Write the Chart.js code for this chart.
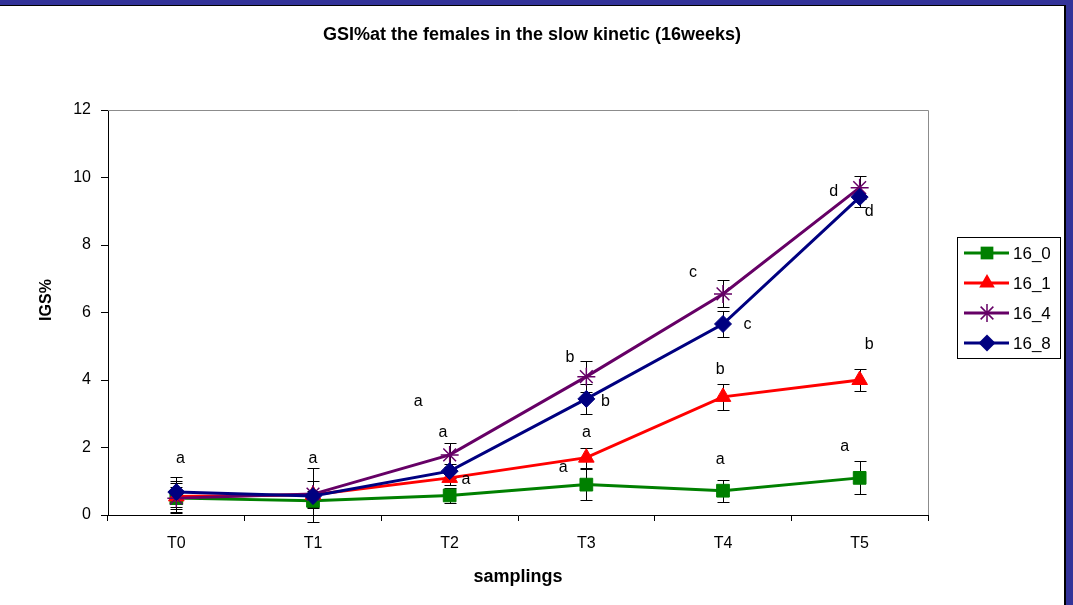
<!DOCTYPE html>
<html>
<head>
<meta charset="utf-8">
<script src="https://cdn.jsdelivr.net/npm/chart.js@4.4.1/dist/chart.umd.min.js"></script>
<style>
  html, body { margin: 0; padding: 0; background: #333399; width: 1073px; height: 605px; overflow: hidden; }
  #panel { position: absolute; left: 0; top: 5px; width: 1064px; height: 600px; background: #fff;
           border-top: 1px solid #000; border-right: 2px solid #000; }
  canvas { display: block; }
</style>
</head>
<body>
<div id="panel"><canvas id="gsi" width="1064" height="599"></canvas></div>
<script>
// samplings and GSI% means
const samplings = ['T0', 'T1', 'T2', 'T3', 'T4', 'T5'];
const seriesNames = ['16_0', '16_1', '16_4', '16_8'];
const igs16_0 = [0.50, 0.42, 0.58, 0.90, 0.72, 1.10];
const igs16_1 = [0.55, 0.60, 1.10, 1.70, 3.50, 4.00];
const igs16_4 = [0.50, 0.62, 1.78, 4.10, 6.55, 9.70];
const igs16_8 = [0.68, 0.56, 1.30, 3.44, 5.66, 9.42];

// error bar half-heights
const err16_0 = [0.45, 0.20, 0.23, 0.45, 0.33, 0.49];
const err16_1 = [0.45, 0.80, 0.20, 0.30, 0.38, 0.33];
const err16_4 = [0.32, 0.38, 0.35, 0.45, 0.40, 0.35];
const err16_8 = [0.45, 0.15, 0.20, 0.45, 0.38, 0.30];

const yTicks = [0, 2, 4, 6, 8, 10, 12];

// significance letters: text, place along the sampling axis, value
const letterText = ['a', 'a', 'a', 'a', 'a', 'b', 'b', 'a', 'a', 'c', 'c', 'b', 'a', 'd', 'd', 'b', 'a'];
const letterAt = [0.03, 1.0, 1.77, 1.95, 2.12, 2.88, 3.14, 3.0, 2.83, 3.78, 4.18, 3.98, 3.98, 4.81, 5.07, 5.07, 4.89];
const letterVal = [1.66, 1.66, 3.35, 2.43, 1.04, 4.65, 3.35, 2.43, 1.39, 7.17, 5.63, 4.30, 1.63, 9.57, 8.98, 5.04, 2.04];

const chartTitle = 'GSI%at the females in the slow kinetic (16weeks)';
const yTitle = 'IGS%';
const xTitle = 'samplings';

const FONT = '"Liberation Sans", Arial, sans-serif';

function marker(ctx, style, r, x, y, color) {
  ctx.save();
  ctx.fillStyle = color;
  ctx.strokeStyle = color;
  ctx.beginPath();
  if (style === 'rect') {
    const s = Math.SQRT1_2 * r;
    ctx.rect(x - s, y - s, 2 * s, 2 * s);
    ctx.fill();
  } else if (style === 'triangle') {
    ctx.moveTo(x, y - r);
    ctx.lineTo(x + r * 0.866, y + r * 0.5);
    ctx.lineTo(x - r * 0.866, y + r * 0.5);
    ctx.closePath();
    ctx.fill();
  } else if (style === 'rectRot') {
    ctx.moveTo(x - r, y); ctx.lineTo(x, y - r); ctx.lineTo(x + r, y); ctx.lineTo(x, y + r);
    ctx.closePath();
    ctx.fill();
  } else {
    ctx.lineWidth = 1.5;
    const d = r * 0.707;
    ctx.moveTo(x - d, y - d); ctx.lineTo(x + d, y + d);
    ctx.moveTo(x + d, y - d); ctx.lineTo(x - d, y + d);
    ctx.moveTo(x, y - r); ctx.lineTo(x, y + r);
    ctx.moveTo(x - r, y); ctx.lineTo(x + r, y);
    ctx.stroke();
  }
  ctx.restore();
}

const plotFrame = {
  id: 'plotFrame',
  beforeDatasetsDraw(chart) {
    const { ctx, chartArea: a, scales: { x, y } } = chart;
    ctx.save();
    ctx.strokeStyle = '#8c8c8c';
    ctx.lineWidth = 1;
    ctx.beginPath();
    ctx.moveTo(a.left, a.top + 0.5); ctx.lineTo(a.right + 0.5, a.top + 0.5); ctx.lineTo(a.right + 0.5, a.bottom);
    ctx.stroke();

    // error bars sit under the markers
    ctx.strokeStyle = '#000';
    chart.data.datasets.forEach(ds => {
      ds.data.forEach((v, j) => {
        const e = ds.errorBars[j];
        const px = Math.round(x.getPixelForValue(j)) + 0.5;
        const t = Math.round(y.getPixelForValue(v + e)) + 0.5;
        const b = Math.round(y.getPixelForValue(v - e)) + 0.5;
        ctx.beginPath();
        ctx.moveTo(px, t); ctx.lineTo(px, b);
        ctx.moveTo(px - 6, t); ctx.lineTo(px + 6, t);
        ctx.moveTo(px - 6, b); ctx.lineTo(px + 6, b);
        ctx.stroke();
      });
    });
    ctx.restore();
  },
  afterDatasetsDraw(chart) {
    const { ctx, scales: { x, y } } = chart;
    const step = x.getPixelForValue(1) - x.getPixelForValue(0);
    ctx.save();
    ctx.fillStyle = '#000';
    ctx.font = '16px ' + FONT;
    ctx.textAlign = 'center';
    ctx.textBaseline = 'middle';
    letterText.forEach((t, i) => {
      ctx.fillText(t, x.getPixelForValue(0) + letterAt[i] * step, y.getPixelForValue(letterVal[i]));
    });
    ctx.restore();
  }
};

// title centred on the whole panel, y title beside the axis
const titles = {
  id: 'titles',
  afterDraw(chart) {
    const ctx = chart.ctx;
    ctx.save();
    ctx.fillStyle = '#000';
    ctx.textAlign = 'center';
    ctx.textBaseline = 'middle';
    ctx.font = 'bold 18px ' + FONT;
    ctx.fillText(chartTitle, chart.width / 2, 29);
    ctx.translate(47, 294);
    ctx.rotate(-Math.PI / 2);
    ctx.font = 'bold 16px ' + FONT;
    ctx.fillText(yTitle, 0, 0);
    ctx.restore();
  }
};

const sideLegend = {
  id: 'sideLegend',
  afterDraw(chart) {
    const { ctx, chartArea: a } = chart;
    const x0 = Math.round(a.right) + 29, y0 = Math.round(a.top) + 127, w = 103, h = 121;
    ctx.save();
    ctx.strokeStyle = '#000';
    ctx.lineWidth = 1;
    ctx.strokeRect(x0 + 0.5, y0 + 0.5, w, h);
    ctx.font = '17px ' + FONT;
    ctx.textBaseline = 'middle';
    chart.data.datasets.forEach((ds, i) => {
      const yy = y0 + 16 + i * 30;
      ctx.strokeStyle = ds.borderColor;
      ctx.lineWidth = 3;
      ctx.beginPath();
      ctx.moveTo(x0 + 7, yy); ctx.lineTo(x0 + 52, yy);
      ctx.stroke();
      marker(ctx, ds.pointStyle, ds.pointRadius, x0 + 30, yy, ds.borderColor);
      ctx.fillStyle = '#000';
      ctx.fillText(ds.label, x0 + 56, yy + 1);
    });
    ctx.restore();
  }
};

const colors = ['#008000', '#ff0000', '#660066', '#000080'];
const styles = ['rect', 'triangle', 'star', 'rectRot'];
const radii = [9, 9, 9, 8.5];
const means = [igs16_0, igs16_1, igs16_4, igs16_8];
const errs = [err16_0, err16_1, err16_4, err16_8];

const datasets = seriesNames.map((name, i) => ({
  label: name,
  data: means[i],
  errorBars: errs[i],
  borderColor: colors[i],
  borderWidth: 3,
  pointStyle: styles[i],
  pointRadius: radii[i],
  pointBackgroundColor: colors[i],
  pointBorderColor: colors[i],
  pointBorderWidth: styles[i] === 'star' ? 1.5 : 1,
  order: 3 - i,
  tension: 0
}));

new Chart(document.getElementById('gsi'), {
  type: 'line',
  data: { labels: samplings, datasets: datasets },
  options: {
    responsive: false,
    animation: false,
    layout: { padding: { left: 0, right: 136, top: 104, bottom: 0 } },
    plugins: {
      legend: { display: false },
      tooltip: { enabled: false },
      title: { display: false }
    },
    scales: {
      x: {
        offset: true,
        grid: { offset: true, drawOnChartArea: false, tickLength: 6, color: '#000' },
        border: { color: '#000', width: 1 },
        ticks: { color: '#000', font: { family: FONT, size: 16 }, padding: 13 },
        title: {
          display: true, text: xTitle, color: '#000',
          font: { family: FONT, size: 18, weight: 'bold' },
          padding: { top: 0, bottom: 17 }
        },
        afterFit(s) { s.height = 90; }
      },
      y: {
        min: 0,
        max: 12,
        afterBuildTicks(s) { s.ticks = yTicks.map(v => ({ value: v })); },
        grid: { drawOnChartArea: false, tickLength: 7, color: '#000' },
        border: { color: '#000', width: 1 },
        ticks: { color: '#000', font: { family: FONT, size: 16 }, padding: 10 },
        afterFit(s) { s.width = 108; }
      }
    }
  },
  plugins: [plotFrame, titles, sideLegend]
});
</script>
</body>
</html>
